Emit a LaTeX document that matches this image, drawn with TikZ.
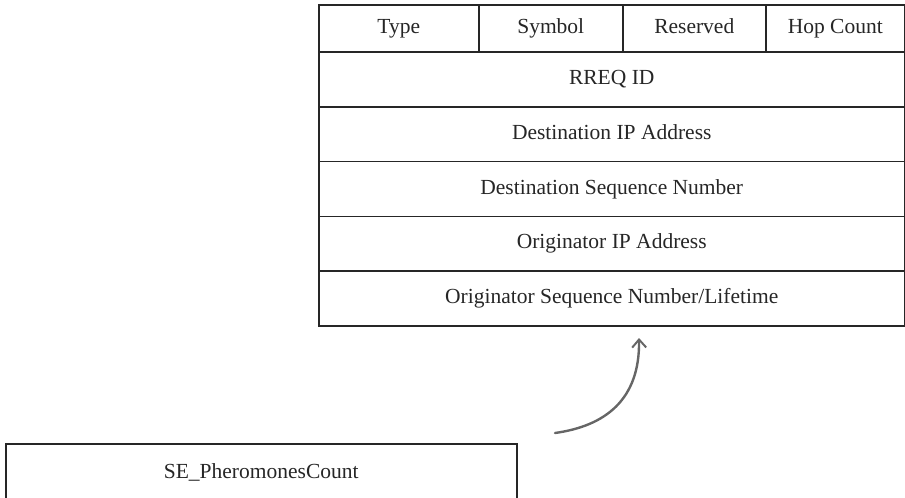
\documentclass[tikz,border=0pt]{standalone}
\usepackage{fontspec}
\setmainfont{Liberation Serif}
\usetikzlibrary{arrows.meta,calc}
\begin{document}
\begin{tikzpicture}[x=1pt,y=-1pt,
  cell/.style={draw=black!85, line width=1.5pt, inner sep=0pt, anchor=north west,
    text height=15pt, text depth=4.5pt,
    font=\fontsize{21.5}{25}\selectfont, text=black!85},
  curvearrow/.style={draw=black!60, line width=2.4pt, line cap=round,
    -{Straight Barb[length=8pt,width=14pt,line width=2pt]}}]
\useasboundingbox (0,0) rectangle (905,498);
\clip (0,0) rectangle (905,498);
% header row
\node[cell, minimum width=160, minimum height=47] (type) at (318,4) {Type};
\node[cell, minimum width=144, minimum height=47] (symbol) at (478,4) {Symbol};
\node[cell, minimum width=143, minimum height=47] (reserved) at (622,4) {Reserved};
\node[cell, minimum width=139, minimum height=47] (hop) at (765,4) {Hop Count};
% full-width rows
\node[cell, minimum width=586, minimum height=55] (rreq) at (318,51) {RREQ ID};
\node[cell, minimum width=586, minimum height=54.5] (dip) at (318,106) {Destination IP Address};
\node[cell, minimum width=586, minimum height=55] (dsn) at (318,160.5) {Destination Sequence Number};
\node[cell, minimum width=586, minimum height=54.5] (oip) at (318,215.5) {Originator IP Address};
\node[cell, minimum width=586, minimum height=55] (osn) at (318,270) {Originator Sequence Number/Lifetime};
% bottom box (extends past the lower edge)
\node[cell, minimum width=511, minimum height=70, text height=15pt, text depth=15pt] (se) at (5,443) {SE\_PheromonesCount};
% curved arrow
\coordinate (a0) at (555,433);
\coordinate (a1) at (639,338);
\draw[curvearrow] (a0) .. controls (605,426) and (640,400) .. (a1);
\end{tikzpicture}
\end{document}
